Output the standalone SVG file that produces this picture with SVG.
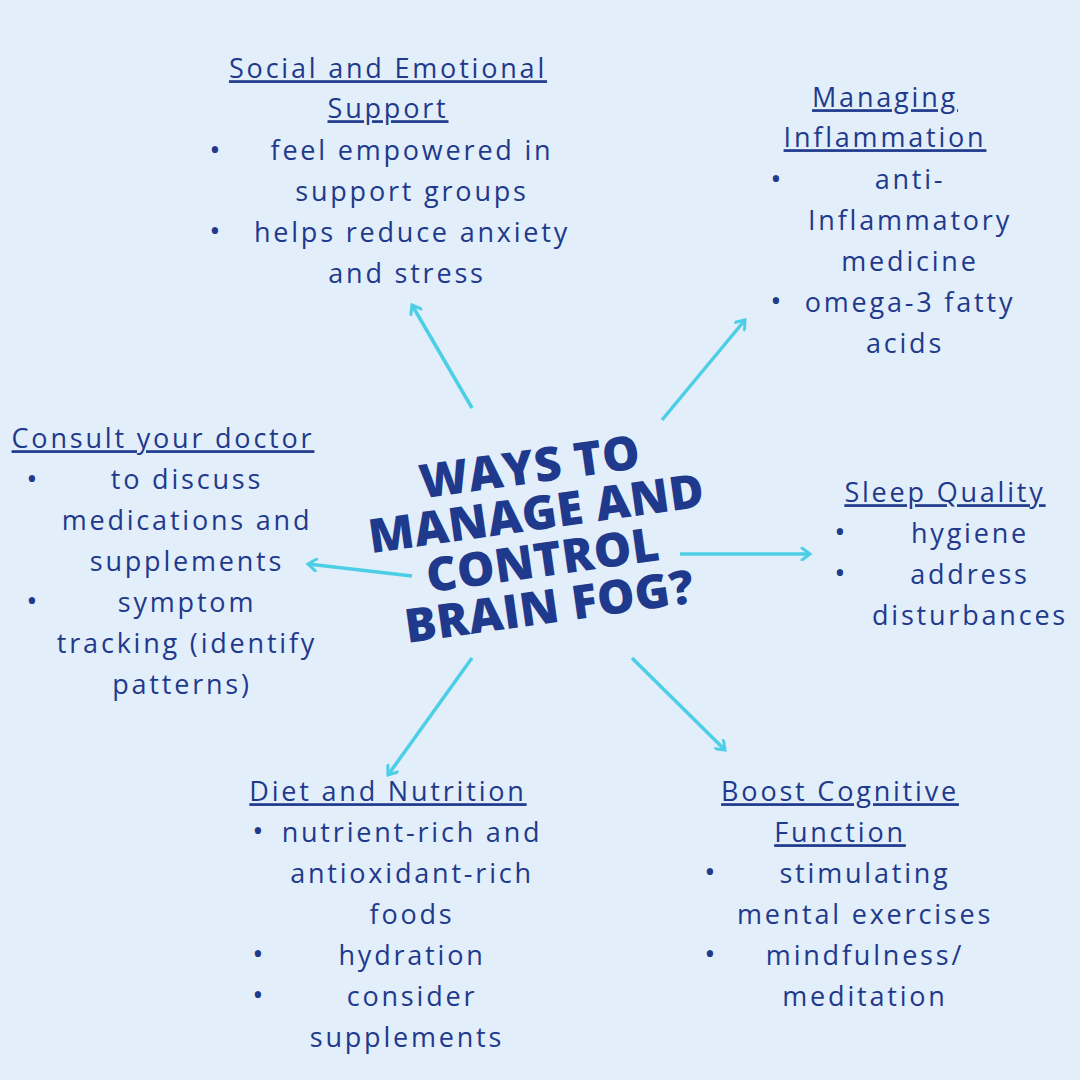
<svg xmlns="http://www.w3.org/2000/svg" width="1080" height="1080" viewBox="0 0 1080 1080">
<defs>
<marker id="ah" markerWidth="14" markerHeight="14" refX="10" refY="7" orient="auto" markerUnits="userSpaceOnUse">
<path d="M2,1 L10,7 L2,13" fill="none" stroke="#4ccfe6" stroke-width="3" stroke-linecap="round"/>
</marker>
</defs>
<style>
text{font-family:"Open Sans","DejaVu Sans",sans-serif;fill:#1f3a8c;font-size:27px;letter-spacing:2.8px;text-anchor:middle;dominant-baseline:middle}
.h{text-decoration:underline}
.b{font-size:30px;letter-spacing:0}
.t{font-family:"Open Sans","DejaVu Sans",sans-serif;font-weight:800;font-size:47px;letter-spacing:0.5px}
line{stroke:#4ccfe6;stroke-width:3.5;marker-end:url(#ah)}
</style>
<rect width="1080" height="1080" fill="#e2eef9"/>
<g id="connectors">
<line x1="472" y1="408" x2="412" y2="305"/>
<line x1="662" y1="420" x2="745" y2="320"/>
<line x1="412" y1="576" x2="308" y2="564"/>
<line x1="680" y1="554" x2="810" y2="554"/>
<line x1="472" y1="658" x2="388" y2="775"/>
<line x1="632" y1="658" x2="725" y2="750"/>
</g>
<g id="center" transform="rotate(-8 540 540)">
<text class="t" x="540" y="470">WAYS TO</text>
<text class="t" x="540" y="517">MANAGE AND</text>
<text class="t" x="540" y="564">CONTROL</text>
<text class="t" x="540" y="611">BRAIN FOG?</text>
</g>
<g id="social">
<text class="h" x="388" y="71">Social and Emotional</text>
<text class="h" x="388" y="111">Support</text>
<text class="b" x="215" y="152">•</text><text x="412" y="153">feel empowered in</text>
<text x="412" y="194">support groups</text>
<text class="b" x="215" y="233">•</text><text x="412" y="235">helps reduce anxiety</text>
<text x="407" y="276">and stress</text>
</g>
<g id="inflammation">
<text class="h" x="885" y="100">Managing</text>
<text class="h" x="885" y="140">Inflammation</text>
<text class="b" x="776" y="181">•</text><text x="910" y="182">anti-</text>
<text x="910" y="223">Inflammatory</text>
<text x="910" y="264">medicine</text>
<text class="b" x="776" y="303">•</text><text x="910" y="305">omega-3 fatty</text>
<text x="905" y="346">acids</text>
</g>
<g id="doctor">
<text class="h" x="163" y="441">Consult your doctor</text>
<text class="b" x="32" y="481">•</text><text x="187" y="482">to discuss</text>
<text x="187" y="523">medications and</text>
<text x="187" y="564">supplements</text>
<text class="b" x="32" y="603">•</text><text x="187" y="605">symptom</text>
<text x="187" y="646">tracking (identify</text>
<text x="182" y="687">patterns)</text>
</g>
<g id="sleep">
<text class="h" x="945" y="495">Sleep Quality</text>
<text class="b" x="840" y="534">•</text><text x="970" y="536">hygiene</text>
<text class="b" x="840" y="575">•</text><text x="970" y="577">address</text>
<text x="970" y="618">disturbances</text>
</g>
<g id="diet">
<text class="h" x="388" y="794">Diet and Nutrition</text>
<text class="b" x="258" y="833">•</text><text x="412" y="835">nutrient-rich and</text>
<text x="412" y="876">antioxidant-rich</text>
<text x="412" y="917">foods</text>
<text class="b" x="258" y="956">•</text><text x="412" y="958">hydration</text>
<text class="b" x="258" y="997">•</text><text x="412" y="999">consider</text>
<text x="407" y="1040">supplements</text>
</g>
<g id="cognitive">
<text class="h" x="840" y="794">Boost Cognitive</text>
<text class="h" x="840" y="835">Function</text>
<text class="b" x="710" y="874">•</text><text x="865" y="876">stimulating</text>
<text x="865" y="917">mental exercises</text>
<text class="b" x="710" y="956">•</text><text x="865" y="958">mindfulness/</text>
<text x="865" y="999">meditation</text>
</g>
</svg>
